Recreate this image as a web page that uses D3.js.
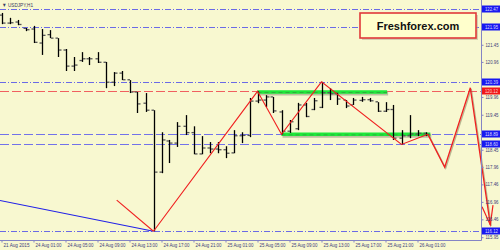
<!DOCTYPE html>
<html>
<head>
<meta charset="utf-8">
<script src="https://cdn.jsdelivr.net/npm/d3@7"></script>
<style>
  body { margin: 0; background: #fff; }
  svg { display: block; }
  text { font-family: Arial, "Liberation Sans", sans-serif; }
</style>
</head>
<body>
<div id="chart"></div>
<script>
// Chart size
const width = 500;
const height = 250;

// Hourly bars USDJPY H1 (index 0 = 21 Aug 2015)
const opens  = [122.30,122.07,122.10,121.92,121.90,121.50,121.74,121.64,121.30,120.84,121.00,121.05,121.05,120.95,120.38,120.64,120.45,120.10,119.78,119.58,117.81,118.70,118.64,119.12,118.94,118.33,118.50,118.47,118.45,118.36,118.85,118.86,119.84,119.87,119.96,119.53,118.98,119.05,119.73,119.60,119.66,120.08,120.05,119.87,119.73,119.86,119.88,119.82,119.55,119.60,118.78,118.85,118.90,118.92];
const highs  = [122.36,122.22,122.16,121.93,121.99,121.90,121.87,121.64,121.33,121.10,121.24,121.10,121.24,120.96,120.67,120.70,120.44,120.10,120.07,119.58,118.95,118.73,119.24,119.44,119.12,118.84,118.67,118.67,118.55,119.01,118.95,119.93,120.12,120.01,119.96,119.58,119.30,119.79,119.79,119.93,120.39,120.21,120.07,119.87,119.93,119.96,119.93,119.81,119.81,119.73,119.01,119.44,119.01,118.95];
const lows   = [122.04,122.04,122.01,121.84,121.50,121.16,121.64,121.10,120.70,120.70,120.96,120.87,120.93,120.21,120.27,120.44,120.07,119.50,119.53,116.12,117.78,118.07,118.53,118.87,118.32,118.32,118.35,118.35,118.21,118.35,118.64,118.81,119.78,119.67,119.50,118.89,118.93,119.01,119.38,119.58,119.64,119.87,119.73,119.64,119.73,119.82,119.82,119.53,119.53,118.73,118.60,118.78,118.84,118.84];
const closes = [122.07,122.08,122.03,121.88,121.52,121.72,121.64,121.30,120.84,120.87,121.05,121.05,120.95,120.38,120.64,120.45,120.10,119.76,119.58,117.81,118.73,118.64,119.12,118.94,118.33,118.50,118.47,118.45,118.35,118.85,118.86,119.84,119.87,119.96,119.56,118.98,119.25,119.73,119.40,119.85,120.08,120.05,119.90,119.70,119.87,119.88,119.85,119.55,119.60,118.78,118.85,118.90,118.92,118.89];

// Time labels every 4 bars
const timeLabelIndex = [0, 4, 8, 12, 16, 20, 24, 28, 32, 36, 40, 44, 48, 52];
const timeLabels = ["21 Aug 2015", "24 Aug 01:00", "24 Aug 05:00", "24 Aug 09:00", "24 Aug 13:00",
  "24 Aug 17:00", "24 Aug 21:00", "25 Aug 01:00", "25 Aug 05:00", "25 Aug 09:00",
  "25 Aug 13:00", "25 Aug 17:00", "25 Aug 21:00", "26 Aug 01:00"];

// Price ticks on the right scale
const priceTicks = [121.45, 120.96, 119.96, 119.45, 118.45, 117.96, 117.46, 116.96, 116.46, 115.95];

// Horizontal levels
const dashDotLevels = [122.47, 121.95, 120.39, 116.12];
const blueDashLevels = [118.89, 118.60];
const redDashLevels = [120.12];

// Zigzag and projection (bar index, price)
const zigzagIdx    = [19, 32, 35, 40, 50, 53.3];
const zigzagPrice  = [116.12, 120.12, 118.89, 120.39, 118.60, 118.89];
const projIdx      = [53.3, 55.4, 58.6, 61.1];
const projPrice    = [118.89, 117.95, 120.22, 116.30];
const leadIdx      = [14.4, 19];
const leadPrice    = [117.01, 116.12];
const blueLineIdx  = [-0.2, 19];
const blueLinePrice = [117.00, 116.12];

// Channel lines (start index, end index, price)
const channelStart = [32, 35];
const channelEnd   = [48.2, 53.6];
const channelPrice = [120.10, 118.89];

const bg = "#f8f8d0";
const axisColor = "#8484c4";
const labelColor = "#40407a";

const plotRight = 481;
const plotBottom = 240;

const x = d3.scaleLinear().domain([0, 60]).range([1.5, 481.5]);
const y = d3.scaleLinear().domain([122.73, 115.87]).range([0, 240]);

const svg = d3.select("#chart")
  .append("svg")
  .attr("width", width)
  .attr("height", height);

svg.append("rect").attr("width", width).attr("height", height).attr("fill", bg);

// Horizontal levels
svg.append("g").selectAll("line")
  .data(dashDotLevels)
  .join("line")
  .attr("x1", 0).attr("x2", plotRight)
  .attr("y1", d => Math.round(y(d)) + 0.5).attr("y2", d => Math.round(y(d)) + 0.5)
  .attr("stroke", "#6a6ae6").attr("stroke-width", 1)
  .attr("stroke-dasharray", "6,2,1,2");

svg.append("g").selectAll("line")
  .data(blueDashLevels)
  .join("line")
  .attr("x1", 0).attr("x2", plotRight)
  .attr("y1", d => Math.round(y(d)) + 0.5).attr("y2", d => Math.round(y(d)) + 0.5)
  .attr("stroke", "#7272ea").attr("stroke-width", 1)
  .attr("stroke-dasharray", "9,3");

svg.append("g").selectAll("line")
  .data(redDashLevels)
  .join("line")
  .attr("x1", 0).attr("x2", plotRight)
  .attr("y1", d => Math.round(y(d)) + 0.5).attr("y2", d => Math.round(y(d)) + 0.5)
  .attr("stroke", "#f06060").attr("stroke-width", 1)
  .attr("stroke-dasharray", "9,3");

// Channel lines (green with shadow)
const channel = channelPrice.map((p, k) => ({ a: channelStart[k], b: channelEnd[k], p }));
const chG = svg.append("g");
chG.selectAll("line.shadow")
  .data(channel)
  .join("line")
  .attr("class", "shadow")
  .attr("x1", d => x(d.a) + 1).attr("x2", d => x(d.b) + 1)
  .attr("y1", d => y(d.p) + 1.5).attr("y2", d => y(d.p) + 1.5)
  .attr("stroke", "#9a9a80").attr("stroke-width", 4).attr("opacity", 0.6);
chG.selectAll("line.main")
  .data(channel)
  .join("line")
  .attr("class", "main")
  .attr("x1", d => x(d.a)).attr("x2", d => x(d.b))
  .attr("y1", d => y(d.p)).attr("y2", d => y(d.p))
  .attr("stroke", "#1ee83a").attr("stroke-width", 3.5);
chG.selectAll("line.dash")
  .data(channel)
  .join("line")
  .attr("class", "dash")
  .attr("x1", d => x(d.a)).attr("x2", d => x(d.b))
  .attr("y1", d => y(d.p) + 0.5).attr("y2", d => y(d.p) + 0.5)
  .attr("stroke", "#3a7a3a").attr("stroke-width", 1).attr("opacity", 0.5)
  .attr("stroke-dasharray", "4,3");

// Bars
const bars = opens.map((o, i) => ({ i, o, h: highs[i], l: lows[i], c: closes[i] }));
const barG = svg.append("g");
barG.selectAll("line.hl")
  .data(bars)
  .join("line")
  .attr("class", "hl")
  .attr("x1", d => Math.round(x(d.i)) + 0.5).attr("x2", d => Math.round(x(d.i)) + 0.5)
  .attr("y1", d => y(d.h)).attr("y2", d => y(d.l))
  .attr("stroke", "#000").attr("stroke-width", 1.3);
barG.selectAll("line.o")
  .data(bars)
  .join("line")
  .attr("class", "o")
  .attr("x1", d => Math.round(x(d.i)) - 2.5).attr("x2", d => Math.round(x(d.i)))
  .attr("y1", d => y(d.o)).attr("y2", d => y(d.o))
  .attr("stroke", "#555").attr("stroke-width", 1.3);
barG.selectAll("line.c")
  .data(bars)
  .join("line")
  .attr("class", "c")
  .attr("x1", d => Math.round(x(d.i)) + 1).attr("x2", d => Math.round(x(d.i)) + 3.5)
  .attr("y1", d => y(d.c)).attr("y2", d => y(d.c))
  .attr("stroke", "#555").attr("stroke-width", 1.3);

// Zigzag lines
const line = d3.line().x(d => x(d[0])).y(d => y(d[1]));
svg.append("path")
  .datum(blueLineIdx.map((v, k) => [v, blueLinePrice[k]]))
  .attr("d", line).attr("fill", "none").attr("stroke", "#2020e8").attr("stroke-width", 1.2);
svg.append("path")
  .datum(leadIdx.map((v, k) => [v, leadPrice[k]]))
  .attr("d", line).attr("fill", "none").attr("stroke", "#f02020").attr("stroke-width", 1.1);
svg.append("path")
  .datum(zigzagIdx.map((v, k) => [v, zigzagPrice[k]]))
  .attr("d", line).attr("fill", "none").attr("stroke", "#f02020").attr("stroke-width", 1.1);

const projPts = projIdx.map((v, k) => [v, projPrice[k]]);
svg.append("path")
  .datum(projPts)
  .attr("d", line).attr("fill", "none").attr("stroke", "#f02020").attr("stroke-width", 1.3)
  .style("filter", "drop-shadow(1px 1px 0.5px rgba(120,120,80,0.5))");

// Arrow head on last projection segment
const pEnd = projPts[projPts.length - 1], pPrev = projPts[projPts.length - 2];
const ex = x(pEnd[0]), ey = y(pEnd[1]);
const ang = Math.atan2(ey - y(pPrev[1]), ex - x(pPrev[0]));
const headLen = 20, spread = 0.28;
const wing = s => [ex - headLen * Math.cos(ang + s), ey - headLen * Math.sin(ang + s)];
svg.append("path")
  .attr("d", d3.line()([wing(spread), [ex, ey], wing(-spread)]))
  .attr("fill", "none").attr("stroke", "#f02020").attr("stroke-width", 1.2);

// Axes
svg.append("line")
  .attr("x1", plotRight + 0.5).attr("x2", plotRight + 0.5)
  .attr("y1", 0).attr("y2", plotBottom + 0.5)
  .attr("stroke", axisColor);
svg.append("line")
  .attr("x1", 0).attr("x2", plotRight + 0.5)
  .attr("y1", plotBottom + 0.5).attr("y2", plotBottom + 0.5)
  .attr("stroke", axisColor);

const yAxis = svg.append("g")
  .attr("transform", `translate(${plotRight + 0.5},0)`)
  .call(d3.axisRight(y).tickValues(priceTicks).tickSize(2).tickPadding(2).tickFormat(d3.format(".2f")));
yAxis.select(".domain").remove();
yAxis.selectAll(".tick line").attr("stroke", axisColor);
yAxis.selectAll(".tick text")
  .attr("fill", labelColor).attr("font-size", 5).attr("font-family", "Arial")
  .attr("textLength", 13).attr("lengthAdjust", "spacingAndGlyphs");

const xAxis = svg.append("g")
  .attr("transform", `translate(0,${plotBottom + 0.5})`)
  .call(d3.axisBottom(x).tickValues(timeLabelIndex).tickSize(2).tickPadding(1)
    .tickFormat((d, k) => timeLabels[k]));
xAxis.select(".domain").remove();
xAxis.selectAll(".tick line").attr("stroke", axisColor);
xAxis.selectAll(".tick text")
  .attr("fill", labelColor).attr("font-size", 5).attr("font-family", "Arial")
  .attr("text-anchor", "start").attr("dx", 1.5)
  .attr("textLength", 26).attr("lengthAdjust", "spacingAndGlyphs");

// Highlighted price labels
const hlLabels = dashDotLevels.concat(blueDashLevels).map(v => ({ v, red: false }))
  .concat(redDashLevels.map(v => ({ v, red: true })));
const hl = svg.append("g").selectAll("g").data(hlLabels).join("g")
  .attr("transform", d => `translate(${plotRight + 1},${Math.round(y(d.v))})`);
hl.append("rect")
  .attr("x", 0).attr("y", -3.5).attr("width", 18).attr("height", 7)
  .attr("fill", d => d.red ? "#f01818" : "#1818f0");
hl.append("text")
  .attr("x", 3).attr("y", 2)
  .attr("font-size", 5).attr("fill", d => d.red ? "#ffd0d0" : "#dcdcff")
  .attr("textLength", 13).attr("lengthAdjust", "spacingAndGlyphs")
  .text(d => d3.format(".2f")(d.v));

// Symbol title
svg.append("text")
  .attr("x", 2).attr("y", 7)
  .attr("font-size", 5.5).attr("fill", "#3a3a60")
  .attr("textLength", 31).attr("lengthAdjust", "spacingAndGlyphs")
  .text("\u25BC USDJPY,H1");

// Watermark box
const box = svg.append("g").attr("transform", "translate(360,13)");
box.append("rect")
  .attr("x", 2).attr("y", 2).attr("width", 116).attr("height", 25)
  .attr("fill", "#b0a890").attr("opacity", 0.5);
box.append("rect")
  .attr("x", 0).attr("y", 0).attr("width", 116).attr("height", 25)
  .attr("fill", "#ffffcc").attr("stroke", "#e03a3a").attr("stroke-width", 1.6);
box.append("text")
  .attr("x", 58).attr("y", 17)
  .attr("text-anchor", "middle")
  .attr("font-size", 11).attr("font-weight", "bold").attr("fill", "#111")
  .text("Freshforex.com");
</script>
</body>
</html>
